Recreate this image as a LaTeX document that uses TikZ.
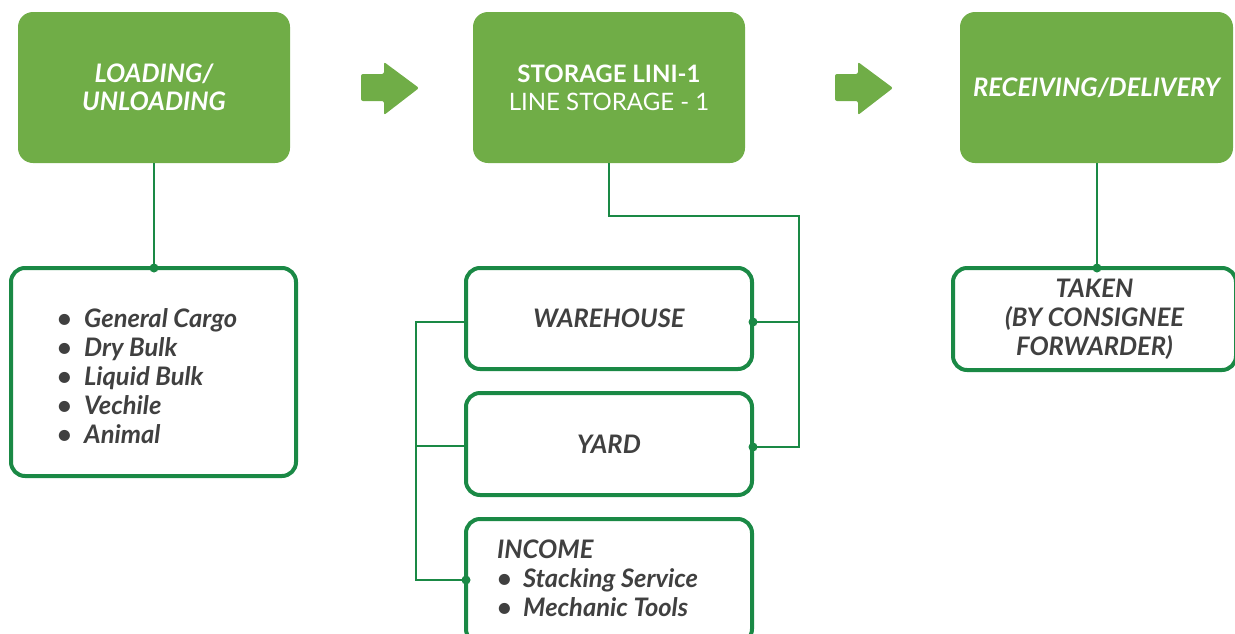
\documentclass[tikz,border=0pt]{standalone}
\usepackage{fontspec}
\setmainfont{Lato}
\definecolor{topgreen}{RGB}{112,173,71}
\definecolor{edgegreen}{RGB}{26,137,69}
\definecolor{txt}{RGB}{64,64,64}
\tikzset{
  topbox/.style={fill=topgreen, draw=none, rounded corners=15pt, text=white, align=center,
    font=\fontsize{25.5}{28}\selectfont\bfseries\itshape, inner sep=0pt},
  subbox/.style={draw=edgegreen, line width=4pt, fill=white, rounded corners=14pt, text=txt, align=center,
    font=\fontsize{25.5}{29}\selectfont\bfseries\itshape, inner sep=0pt},
  conn/.style={draw=edgegreen, line width=2pt},
  jdot/.style={fill=edgegreen, circle, inner sep=0pt, minimum size=9pt},
  flowarrow/.style={fill=topgreen, rounded corners=2pt},
  listtext/.style={text=txt, align=left, inner sep=0pt, font=\fontsize{25.5}{29}\selectfont\bfseries\itshape}
}
\begin{document}
\begin{tikzpicture}[x=1pt,y=-1pt]
\useasboundingbox (0,0) rectangle (1235,633);
\clip (0,0) rectangle (1235,633);
% top boxes
\node[topbox, minimum width=272pt, minimum height=151pt] (load) at (154,87.5) {LOADING/\\UNLOADING};
\node[topbox, minimum width=272pt, minimum height=151pt, font=\fontsize{24}{28}\selectfont] (stor) at (609,87.5) {\textbf{STORAGE LINI-1}\\LINE STORAGE - 1};
\node[topbox, minimum width=273pt, minimum height=151pt] (recv) at (1096.5,87.5) {RECEIVING/DELIVERY};
% flow arrows
\fill[flowarrow] (361,74) -- (384,74) -- (384,62) -- (419,88) -- (384,115) -- (384,101) -- (361,101) -- cycle;
\fill[flowarrow] (835,74) -- (858,74) -- (858,62) -- (893,88) -- (858,115) -- (858,101) -- (835,101) -- cycle;
% sub boxes
\node[subbox, minimum width=285pt, minimum height=208pt] (list) at (153.5,372) {};
\node[subbox, minimum width=286pt, minimum height=101pt] (ware) at (609,318.5) {WAREHOUSE};
\node[subbox, minimum width=286pt, minimum height=102pt] (yard) at (609,444) {YARD};
\node[subbox, minimum width=286pt, minimum height=124pt] (inc) at (609,581) {};
\node[subbox, minimum width=283pt, minimum height=102pt] (taken) at (1094.5,319) {TAKEN\\(BY CONSIGNEE\\FORWARDER)};
% list texts
\node[listtext, anchor=base west] (items) at (57,443) {\makebox[27pt][l]{•}General Cargo\\\makebox[27pt][l]{•}Dry Bulk\\\makebox[27pt][l]{•}Liquid Bulk\\\makebox[27pt][l]{•}Vechile\\\makebox[27pt][l]{•}Animal};
\node[listtext, anchor=base west] (inctext) at (497,616) {INCOME\\\makebox[26pt][l]{•}Stacking Service\\\makebox[26pt][l]{•}Mechanic Tools};
% connectors
\coordinate (j1) at (154,268);
\draw[conn] (load.south) -- (j1);
\node[jdot] at (j1) {};
\coordinate (s1) at (609,216);
\coordinate (s2) at (799,216);
\coordinate (s3) at (799,447);
\coordinate (wr) at (753,322);
\coordinate (yr) at (753,447);
\draw[conn] (stor.south) -- (s1) -- (s2) -- (s3) -- (yr);
\draw[conn] (799,322) -- (wr);
\node[jdot] at (wr) {};
\node[jdot] at (yr) {};
\coordinate (l1) at (416,322);
\coordinate (l3) at (416,580);
\coordinate (il) at (466,580);
\draw[conn] (ware.west |- l1) -- (l1) -- (l3) -- (il);
\draw[conn] (416,446) -- (yard.west |- 0,446);
\node[jdot] at (il) {};
\coordinate (j3) at (1097,268);
\draw[conn] (recv.south -| j3) -- (j3);
\node[jdot] at (j3) {};
\end{tikzpicture}
\end{document}
